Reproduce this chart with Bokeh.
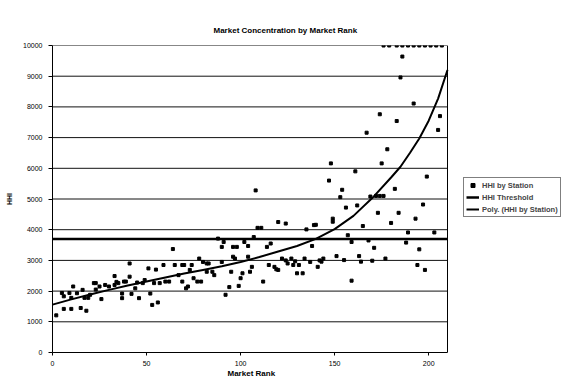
from bokeh.plotting import figure
from bokeh.models import Range1d, Legend, LegendItem, FixedTicker, Title, LinearAxis
from bokeh.embed import file_html
from bokeh.resources import INLINE

title_text = "Market Concentration by Market Rank"
x_label = "Market Rank"
y_label = "HHI"
x_ticks = [0, 50, 100, 150, 200]
y_ticks = [0, 1000, 2000, 3000, 4000, 5000, 6000, 7000, 8000, 9000, 10000]

station_rank = [
    2, 5, 6, 6, 9, 10, 10, 11, 13, 15, 16, 17, 18, 19, 20, 22, 23, 23, 25, 26,
    28, 30, 33, 33, 34, 35, 37, 37, 38, 39, 41, 41, 42, 44, 45, 46, 48, 49, 51, 52,
    53, 54, 55, 56, 57, 59, 60, 62, 64, 65, 67, 69, 69, 70, 71, 72, 73, 74, 75, 77,
    78, 79, 80, 82, 82, 83, 85, 86, 88, 90, 90, 91, 92, 94, 95, 96, 96, 97, 98, 99,
    100, 101, 102, 104, 104, 105, 106, 107, 108, 109, 111, 112, 114, 115, 116, 118, 119, 120, 120, 122,
    124, 124, 125, 127, 128, 129, 130, 131, 133, 134, 135, 137, 138, 139, 140, 141, 142, 143, 144, 147,
    148, 149, 149, 151, 153, 154, 155, 156, 157, 159, 159, 161, 162, 163, 164, 165, 167, 168, 169, 170,
    171, 172, 173, 174, 174, 175, 176, 176, 177, 178, 179, 180, 182, 183, 183, 184, 185, 186, 186, 188,
    189, 189, 192, 192, 193, 194, 195, 195, 197, 198, 198, 199, 201, 203, 204, 205, 206, 207,
]
station_hhi = [
    1210, 1940, 1830, 1420, 1940, 1780, 1420, 2150, 1930, 1450, 2040, 1780, 1360, 1780, 1880, 2260, 2260, 2050, 2150, 1740,
    2200, 2150, 2490, 2200, 2300, 2260, 1770, 1920, 2310, 2310, 2470, 2900, 1910, 2090, 2280, 1770, 2260, 2360, 2740, 1920,
    1550, 2260, 2700, 1630, 2260, 2850, 2310, 2310, 3370, 2850, 2520, 2850, 2310, 2850, 2090, 2150, 2690, 2850, 2420, 2310,
    3060, 2310, 2950, 2900, 2630, 2900, 2630, 2520, 3710, 2950, 3440, 3600, 1880, 2130, 2630, 3120, 3440, 3060, 3440, 2170,
    2420, 2580, 3600, 3120, 3470, 2630, 2790, 3760, 5280, 4060, 4060, 2310, 3440, 2850, 3550, 2790, 2710, 2690, 4250, 3060,
    4200, 3000, 2900, 3060, 2850, 2970, 2580, 2850, 2580, 3060, 4010, 2950, 3470, 4150, 4160, 2790, 3000, 2960, 3060, 5600,
    6160, 4360, 4260, 3140, 5060, 5300, 3010, 4720, 3820, 2340, 3600, 5900, 4790, 3140, 2960, 4120, 7160, 3650, 5080, 2990,
    3410, 5100, 4550, 5100, 7760, 6160, 5100, 10000, 3060, 6620, 10000, 4220, 5330, 7540, 10000, 4550, 8960, 9640, 10000, 3580,
    3910, 10000, 8110, 10000, 4360, 2850, 3360, 10000, 4820, 2690, 10000, 5730, 10000, 3910, 10000, 7250, 7700, 10000,
]

threshold_hhi = 3700

trend_rank = [0, 10, 20, 30, 40, 50, 60, 70, 80, 90, 100, 110, 120, 130, 140, 150, 160, 170, 180, 185, 190, 195, 200, 205, 210]
trend_hhi = [1560, 1730, 1890, 2040, 2180, 2310, 2440, 2570, 2690, 2810, 2950, 3110, 3290, 3470, 3700, 4020, 4450, 5030, 5700, 6050, 6500, 6970, 7550, 8270, 9200]

x_min, x_max = 0, 210
y_min, y_max = 0, 10000

FONT = "Liberation Sans"

# layout (pixels): plot area 52..447 horizontally; the legend sits to its right
W, H = 561, 383
LEFT, AREA_RIGHT, TOP, BOTTOM = 52, 447, 45, 31
x_view_max = x_max * (W - LEFT) / (AREA_RIGHT - LEFT)

p = figure(width=W, height=H, output_backend="svg", toolbar_location=None,
           x_range=Range1d(x_min, x_view_max), y_range=Range1d(y_min, y_max),
           min_border_left=LEFT, min_border_right=0, min_border_top=TOP, min_border_bottom=BOTTOM)
p.background_fill_color = "white"
p.border_fill_color = "white"
p.outline_line_color = None
p.title.text = ""

xax = p.xaxis[0]
yax = p.yaxis[0]

p.xgrid.visible = False
p.ygrid.visible = False

for ax in (xax, yax):
    ax.axis_line_color = "black"
    ax.major_tick_line_color = "black"
    ax.minor_tick_line_color = None
    ax.major_tick_in = 0
    ax.major_label_text_font = FONT
    ax.major_label_text_font_size = "7px"
    ax.major_label_text_color = "black"
    ax.axis_label_text_font = FONT
    ax.axis_label_text_font_size = "7px"
    ax.axis_label_text_font_style = "bold"
    ax.axis_label_text_color = "black"

xax.ticker = FixedTicker(ticks=x_ticks)
yax.ticker = FixedTicker(ticks=y_ticks)
xax.bounds = (x_min, x_max)
yax.axis_label = y_label
xax.major_tick_out = 3
xax.major_label_standoff = 5
yax.major_tick_out = 4
yax.major_label_standoff = 6
yax.axis_label_standoff = 7

# empty spacer between the plot area and the chart title (no ticks, invisible)
spacer = LinearAxis(ticker=FixedTicker(ticks=[]), axis_line_color=None,
                    major_tick_line_color="white", minor_tick_line_color=None,
                    major_tick_in=0, major_tick_out=16, minor_tick_in=0, minor_tick_out=0,
                    major_label_standoff=0, axis_label_standoff=0)
p.add_layout(spacer, "above")

chart_title = Title(text=title_text, align="left", offset=161, vertical_align="top",
                    standoff=17, text_font=FONT, text_font_size="8px",
                    text_font_style="bold", text_color="black")
p.add_layout(chart_title, "above")

# x-axis title, centred under the plot area (not under the legend)
x_title = Title(text=x_label, align="left", offset=175, vertical_align="top", standoff=0,
                text_font=FONT, text_font_size="8px", text_font_style="bold", text_color="black")
p.add_layout(x_title, "below")

# horizontal grid lines at the y ticks and right edge of the plot area
p.segment(x0=[x_min] * len(y_ticks), y0=y_ticks, x1=[x_max] * len(y_ticks), y1=y_ticks,
          line_color="#111111", line_width=1)
p.segment(x0=[x_max], y0=[y_min], x1=[x_max], y1=[y_max], line_color="black", line_width=1)

r_pts = p.scatter(station_rank, station_hhi, marker="square", size=3,
                  fill_color="black", line_color="black")
r_thr = p.line([x_min, x_max], [threshold_hhi, threshold_hhi], line_color="black", line_width=2.5)
r_trend = p.line(trend_rank, trend_hhi, line_color="black", line_width=2)

legend = Legend(items=[
    LegendItem(label="HHI by Station", renderers=[r_pts]),
    LegendItem(label="HHI Threshold", renderers=[r_thr]),
    LegendItem(label="Poly. (HHI by Station)", renderers=[r_trend]),
], location=(411, 135))
legend.label_text_font = FONT
legend.label_text_font_size = "7.5px"
legend.label_text_font_style = "bold"
legend.glyph_width = 13
legend.glyph_height = 10
legend.label_height = 10
legend.label_standoff = 3
legend.spacing = 2
legend.padding = 2
legend.margin = 0
legend.border_line_color = "black"
legend.border_line_width = 1
legend.background_fill_color = "white"
p.add_layout(legend, "center")

open("out.html", "w").write(file_html(p, INLINE))
